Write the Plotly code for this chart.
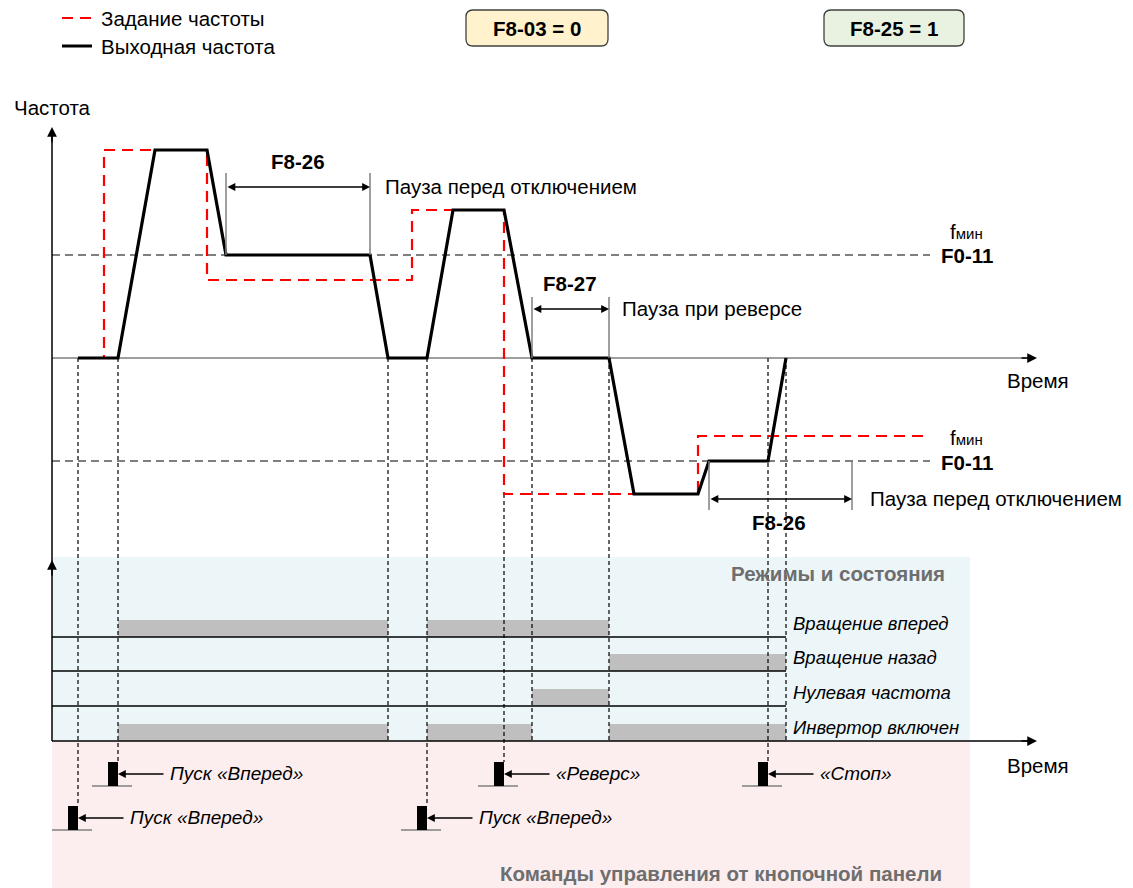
import plotly.graph_objects as go

# ---- data (time in diagram units, frequency relative to the upper time axis) ----
# output frequency (black solid)
t_out = [78, 118, 155, 207, 226, 370, 388, 427, 453, 504, 532, 609, 634, 698, 709, 768, 786]
f_out = [0, 0, 208, 208, 103, 103, 0, 0, 148, 148, 0, 0, -136, -136, -103, -103, 0]

# frequency setpoint (red dashed)
t_set = [78, 104, 104, 207, 207, 412, 412, 504, 504, 698, 698, 928]
f_set = [0, 0, 208, 208, 78, 78, 148, 148, -136, -136, -78, -78]

f_min = 103          # F0-11 level
t_ref_end = 930      # where the F0-11 dashed lines end

# event times (vertical dashed guides) and their lower ends
guide_t = [78, 118, 388, 427, 504, 532, 609, 768, 786]
guide_top = [0, 0, 0, 0, -136, 0, 0, 0, 0]
guide_bot = [-448, -404, -383, -448, -404, -383, -383, -404, -383]

# states panel
row_labels = ['Вращение вперед', 'Вращение назад', 'Нулевая частота', 'Инвертор включен']
row_base = [-279, -313, -348, -383]
row_bars = [
    [(118, 388), (427, 609)],
    [(609, 786)],
    [(532, 609)],
    [(118, 388), (427, 532), (609, 786)],
]

# keypad commands
btn_t = [118, 78, 504, 427, 768]
btn_level = [-428, -472, -428, -472, -428]
btn_text = ['Пуск «Вперед»', 'Пуск «Вперед»', '«Реверс»', 'Пуск «Вперед»', '«Стоп»']

FONT = 'Liberation Sans, Arial, sans-serif'
RED = '#FF0000'
GREY = '#7F7F7F'
FS = 20.5

fig = go.Figure()
shapes = []
ann = []


def text(x, y, s, size=FS, anchor='left', color='black', bold=False, italic=False, ya='middle'):
    if bold:
        s = '<b>' + s + '</b>'
    if italic:
        s = '<i>' + s + '</i>'
    ann.append(dict(x=x, y=y, text=s, showarrow=False, xanchor=anchor, yanchor=ya,
                    font=dict(family=FONT, size=size, color=color)))


def arrow(x, y, ax, ay, both=False, width=1.5, head=2, size=1.0, color='black'):
    ann.append(dict(x=x, y=y, ax=ax, ay=ay, xref='x', yref='y', axref='x', ayref='y',
                    text='', showarrow=True, arrowhead=head, startarrowhead=head,
                    arrowsize=size, startarrowsize=size, arrowwidth=width,
                    arrowcolor=color, arrowside='end+start' if both else 'end',
                    standoff=0, startstandoff=0))


def line(xs, ys, color='black', width=1, dash='solid'):
    fig.add_trace(go.Scatter(x=xs, y=ys, mode='lines', hoverinfo='skip', showlegend=False,
                             line=dict(color=color, width=width, dash=dash)))


# panel backgrounds
shapes.append(dict(type='rect', x0=52, x1=970, y0=-383, y1=-199, line_width=0,
                   fillcolor='#ECF5F8', layer='below'))
shapes.append(dict(type='rect', x0=52, x1=970, y0=-530, y1=-383, line_width=0,
                   fillcolor='#FCEEEE', layer='below'))

# state bars
for base, bars in zip(row_base, row_bars):
    for a, b in bars:
        shapes.append(dict(type='rect', x0=a, x1=b, y0=base, y1=base + 17, line_width=0,
                           fillcolor='#BFBFBF', layer='below'))

# row separator lines
for base in row_base[:3]:
    line([52, 786], [base, base], width=1.5)

# F0-11 reference levels
line([52, t_ref_end], [f_min, f_min], width=1.2, dash='8px,5px')
line([52, t_ref_end], [-f_min, -f_min], width=1.2, dash='8px,5px')

# vertical guides
gx, gy = [], []
for t, a, b in zip(guide_t, guide_top, guide_bot):
    gx += [t, t, None]
    gy += [a, b, None]
line(gx, gy, color='black', width=1.2, dash='4px,3px')

# axes
line([52, 1028], [0, 0], color='#404040', width=1.2)
line([52, 1028], [-383, -383], width=1.5)
line([52, 52], [-383, 222], width=1.5)
for (x, y, ax, ay) in [(1037, 0, 1020, 0), (1037, -383, 1020, -383),
                       (52, 231, 52, 214), (52, -202, 52, -219)]:
    arrow(x, y, ax, ay, width=1.5, head=2, size=1.3)

# setpoint and output
line(t_set, f_set, color=RED, width=2.2, dash='11px,7px')
line(t_out, f_out, color='black', width=3.2)

# F8-26 (upper)
line([226, 226, None, 370, 370], [185, 103, None, 185, 103], color=GREY, width=1.5)
arrow(370, 171, 226, 171, both=True, width=1.3, size=1.2)
text(298, 197, 'F8-26', bold=True, anchor='center')
text(383, 172, 'Пауза перед отключением')

# F8-27
line([532, 532, None, 609, 609], [61, 0, None, 61, 0], color=GREY, width=1.5)
arrow(609, 49, 532, 49, both=True, width=1.3, size=1.2)
text(570, 75, 'F8-27', bold=True, anchor='center')
text(620, 50, 'Пауза при реверсе')

# F8-26 (lower)
line([709, 709, None, 852, 852], [-103, -152, None, -103, -152], color=GREY, width=1.5)
arrow(852, -141, 709, -141, both=True, width=1.3, size=1.2)
text(779, -164, 'F8-26', bold=True, anchor='center')
text(868, -140, 'Пауза перед отключением')

# level labels
fmin_txt = "f<span style='font-size:15px'>мин</span>"
text(966, 127, fmin_txt, anchor='center')
text(967, 103, 'F0-11', bold=True, anchor='center')
text(966, -79, fmin_txt, anchor='center')
text(967, -104, 'F0-11', bold=True, anchor='center')

# axis titles
text(12, 251, 'Частота')
text(1071, -22, 'Время', anchor='right')
text(1071, -407, 'Время', anchor='right')

# legend
line([62, 92], [340, 340], color=RED, width=2, dash='11px,7px')
line([62, 92], [312, 312], color='black', width=3)
text(99, 340, 'Задание частоты')
text(99, 312, 'Выходная частота')

# parameter boxes
def rbox(x0, x1, y0, y1, fill, r=7):
    p = (f'M{x0 + r},{y0} L{x1 - r},{y0} Q{x1},{y0} {x1},{y0 - r} L{x1},{y1 + r} '
         f'Q{x1},{y1} {x1 - r},{y1} L{x0 + r},{y1} Q{x0},{y1} {x0},{y1 + r} '
         f'L{x0},{y0 - r} Q{x0},{y0} {x0 + r},{y0} Z')
    shapes.append(dict(type='path', path=p, fillcolor=fill, line=dict(color='#404040', width=1.3)))


rbox(466, 608, 348, 312, '#FFF2CC')
rbox(824, 964, 348, 312, '#E9F2E0')
text(537, 330, 'F8-03 = 0', bold=True, anchor='center')
text(894, 330, 'F8-25 = 1', bold=True, anchor='center')

# panel titles
text(947, -215, 'Режимы и состояния', color='#6E6E6E', bold=True, anchor='right')
text(944, -515, 'Команды управления от кнопочной панели', color='#6E6E6E', bold=True,
     anchor='right')

for lab, base in zip(row_labels, row_base):
    text(791, base + 14, lab, size=18.5, italic=True)

# keypad buttons
for t, lv, s in zip(btn_t, btn_level, btn_text):
    shapes.append(dict(type='rect', x0=t - 10, x1=t, y0=lv, y1=lv + 24,
                       fillcolor='black', line_width=0))
    line([t - 26, t + 14], [lv, lv], color=GREY, width=1.5)
    arrow(t, lv + 12, t + 47, lv + 12, width=1.3, size=1.2)
    text(t + 50, lv + 13, s, italic=True, size=19)

fig.update_layout(
    width=1133, height=888,
    margin=dict(l=0, r=0, t=0, b=0),
    plot_bgcolor='white', paper_bgcolor='white',
    xaxis=dict(range=[0, 1133], visible=False, fixedrange=True),
    yaxis=dict(range=[-530, 358], visible=False, fixedrange=True),
    shapes=shapes, annotations=ann, showlegend=False,
)

fig.write_html('out.html', config={'displayModeBar': False},
               post_script="document.body.style.margin='0';")
